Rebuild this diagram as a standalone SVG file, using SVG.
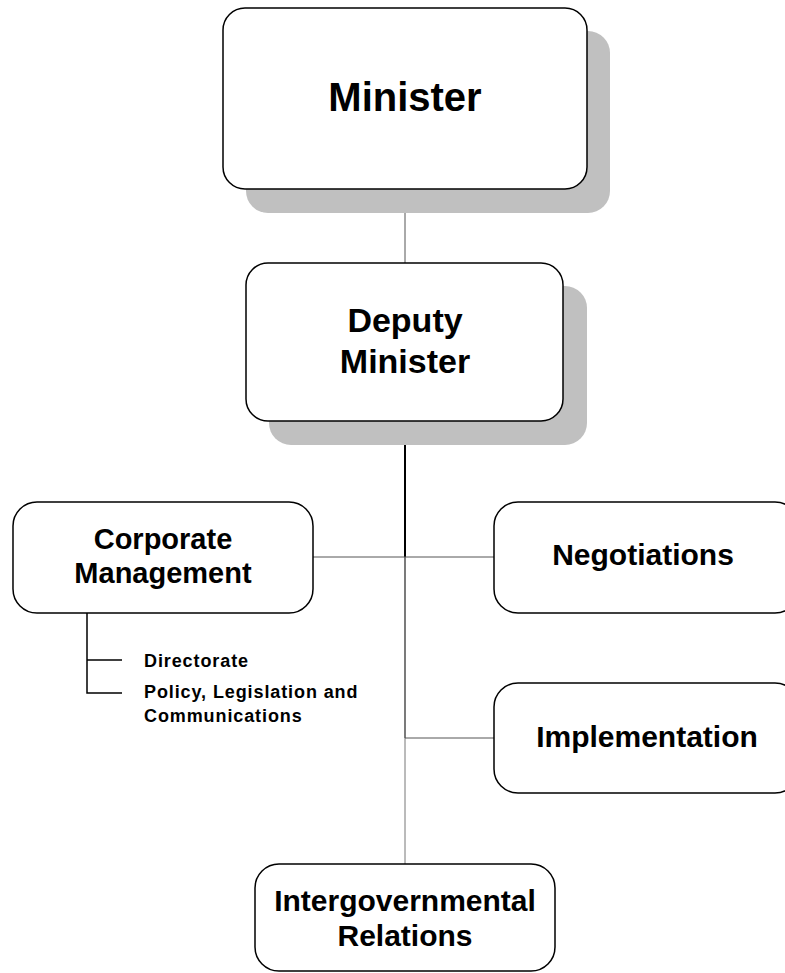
<svg xmlns="http://www.w3.org/2000/svg" width="785" height="973" viewBox="0 0 785 973">
<style>
.box{fill:#ffffff;stroke:#000000;stroke-width:1.5}
.shadow{fill:#c0c0c0;stroke:none}
.t{font-family:"Liberation Sans",Arial,sans-serif;font-weight:bold;fill:#000000;text-anchor:middle}
.s{font-family:"Liberation Sans",Arial,sans-serif;font-weight:bold;fill:#000000;font-size:18px;letter-spacing:0.9px}
.ln{stroke:#555555;stroke-width:1;fill:none}
.lk{stroke:#000000;stroke-width:2;fill:none}
</style>
<rect x="0" y="0" width="785" height="973" fill="#ffffff"/>
<g id="connectors">
<line class="ln" x1="405" y1="189" x2="405" y2="263"/>
<line class="lk" x1="405" y1="421" x2="405" y2="557"/>
<line class="ln" x1="405" y1="557" x2="405" y2="738" style="stroke:#333333;stroke-width:1.3"/>
<line class="ln" x1="405" y1="738" x2="405" y2="864" style="stroke:#777777"/>
<line class="ln" x1="313" y1="557" x2="494" y2="557"/>
<line class="ln" x1="405" y1="738" x2="494" y2="738"/>
<polyline class="lk" points="87,613 87,693 122,693" style="stroke-width:1.5"/>
<line class="lk" x1="87" y1="660" x2="122" y2="660" style="stroke-width:1.5"/>
</g>
<g id="minister">
<rect class="shadow" x="246" y="31" width="364" height="182" rx="22"/>
<rect class="box" x="223" y="8" width="364" height="181" rx="22"/>
<text class="t" x="405" y="111" font-size="40">Minister</text>
</g>
<g id="deputy-minister">
<rect class="shadow" x="269" y="286" width="318" height="159" rx="22"/>
<rect class="box" x="246" y="263" width="317" height="158" rx="22"/>
<text class="t" x="405" y="332" font-size="34">Deputy</text>
<text class="t" x="405" y="373" font-size="34">Minister</text>
</g>
<g id="corporate-management">
<rect class="box" x="13" y="502" width="300" height="111" rx="24"/>
<text class="t" x="163" y="549" font-size="29">Corporate</text>
<text class="t" x="163" y="583" font-size="29">Management</text>
</g>
<g id="corporate-sub">
<text class="s" x="144" y="667">Directorate</text>
<text class="s" x="144" y="698">Policy, Legislation and</text>
<text class="s" x="144" y="722">Communications</text>
</g>
<g id="negotiations">
<rect class="box" x="494" y="502" width="305" height="111" rx="24"/>
<text class="t" x="643" y="565" font-size="30">Negotiations</text>
</g>
<g id="implementation">
<rect class="box" x="494" y="683" width="305" height="110" rx="24"/>
<text class="t" x="647" y="747" font-size="30">Implementation</text>
</g>
<g id="intergovernmental-relations">
<rect class="box" x="255" y="864" width="300" height="107" rx="24"/>
<text class="t" x="405" y="911" font-size="30">Intergovernmental</text>
<text class="t" x="405" y="946" font-size="30">Relations</text>
</g>
</svg>
